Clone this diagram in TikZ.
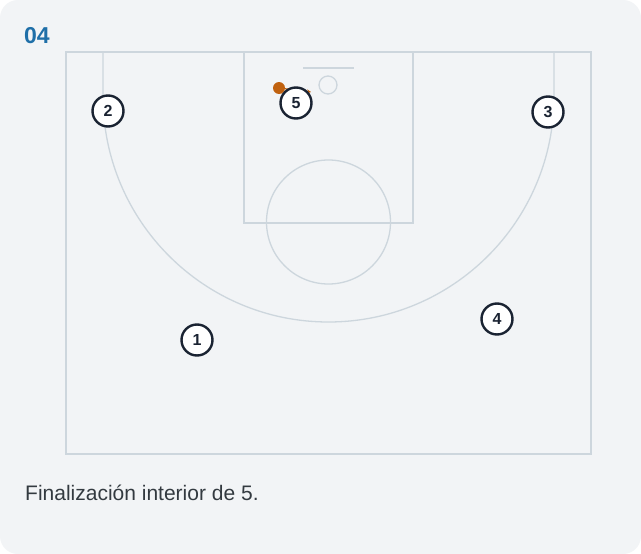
\documentclass[tikz,border=0pt]{standalone}
\usepackage{fontspec}
\setmainfont{Liberation Sans}
\usetikzlibrary{arrows.meta}
\definecolor{cardbg}{HTML}{F2F4F6}
\definecolor{pagebg}{HTML}{FFFFFF}
\definecolor{courtline}{HTML}{CDD6DD}
\definecolor{titleblue}{HTML}{1F6FA8}
\definecolor{playerdark}{HTML}{1A2332}
\definecolor{ballorange}{HTML}{C0610F}
\definecolor{captiongray}{HTML}{333A40}
\tikzset{
  court/.style={draw=courtline, line width=1.3pt},
  player/.style={circle, draw=playerdark, line width=2.4pt, fill=white, minimum size=31pt, inner sep=0pt, font=\bfseries\fontsize{16}{16}\selectfont, text=playerdark},
  ball/.style={circle, fill=ballorange, minimum size=12pt, inner sep=0pt},
}
\begin{document}
\begin{tikzpicture}[x=1pt,y=-1pt]
\useasboundingbox (0,0) rectangle (641,554);
\fill[pagebg] (0,0) rectangle (641,554);
\fill[cardbg, rounded corners=18pt] (0,0) rectangle (641,554);
% title
\node[anchor=west, text=titleblue, font=\bfseries\fontsize{23}{23}\selectfont, inner sep=0pt] (title) at (24,36) {04};
% court
\draw[court] (66,52) rectangle (591,454);
\draw[court] (244,52) rectangle (413,223);
\draw[court] (328.5,222) circle (62);
\draw[court] (103,52) -- (103,96.5) arc[start angle=180, end angle=360, x radius=225.5, y radius=-225.5] -- (554,52);
\draw[court] (303,68) -- (354,68);
\node[circle, draw=courtline, line width=1.3pt, minimum size=18pt, inner sep=0pt] (rim) at (328,85) {};
% ball
\node[ball] (b) at (279,88) {};
\coordinate (shotend) at (311,92);
\draw[ballorange, line width=1.2pt, -{Stealth[length=4pt,width=4pt]}] (b) -- (shotend);
% players
\node[player] (p5) at (296,103) {5};
\node[player] (p2) at (108,111) {2};
\node[player] (p3) at (548,112) {3};
\node[player] (p1) at (197,340) {1};
\node[player] (p4) at (497,319) {4};
% caption
\node[anchor=west, text=captiongray, font=\fontsize{21}{21}\selectfont, inner sep=0pt] (cap) at (25,493) {Finalización interior de 5.};
\end{tikzpicture}
\end{document}
